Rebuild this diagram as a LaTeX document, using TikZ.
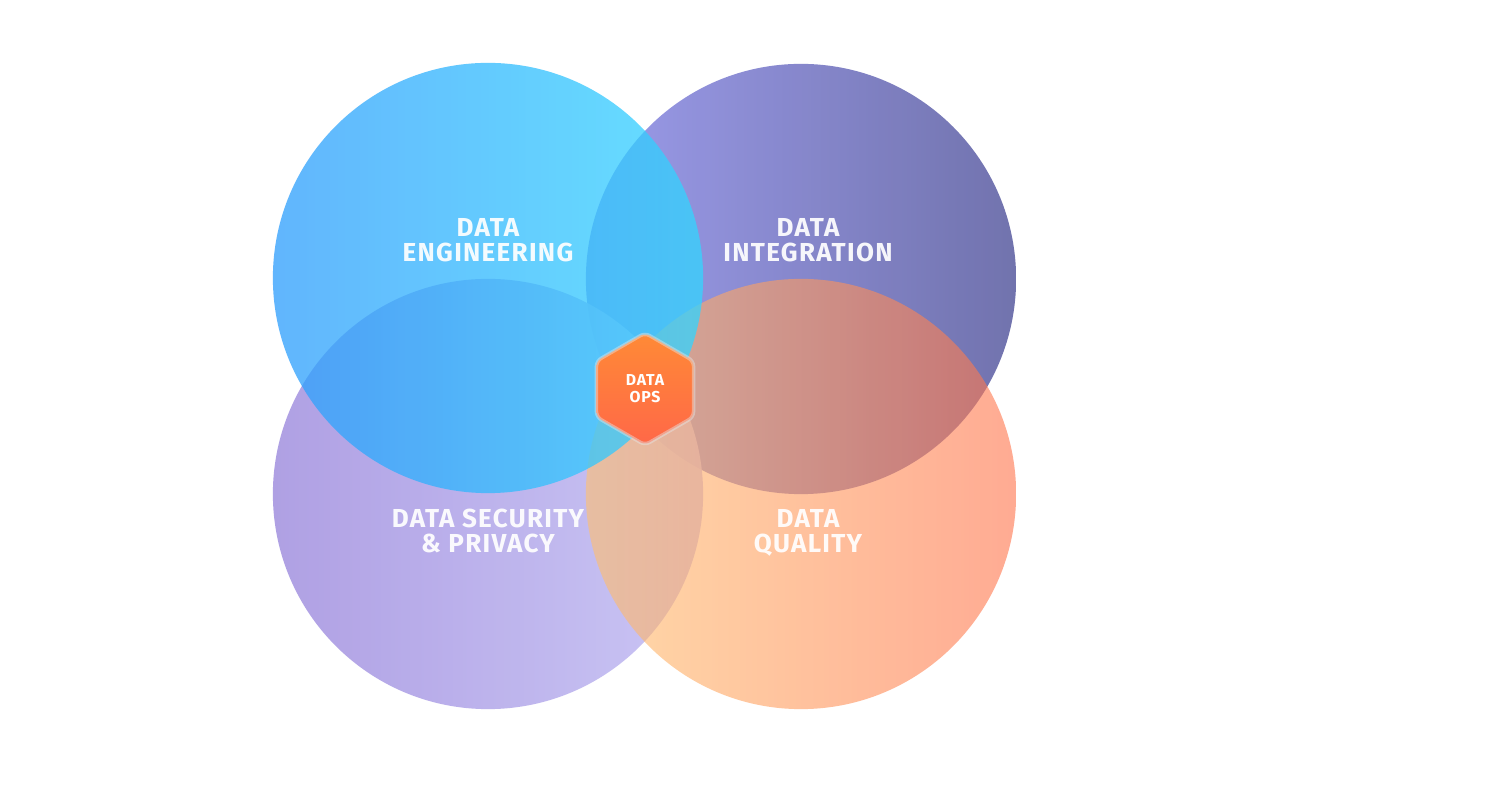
\documentclass[tikz,border=0pt]{standalone}
\usepackage{fontspec}
\setmainfont{Fira Sans}
\newfontfamily\tagfont[LetterSpace=5]{Fira Sans}
\usetikzlibrary{shapes.geometric}
\definecolor{engL}{RGB}{45,157,253}
\definecolor{engR}{RGB}{51,214,255}
\definecolor{integL}{RGB}{145,145,232}
\definecolor{integR}{RGB}{98,100,165}
\definecolor{secuL}{RGB}{167,150,225}
\definecolor{secuR}{RGB}{197,192,244}
\definecolor{qualL}{RGB}{255,192,110}
\definecolor{qualR}{RGB}{255,115,75}
\definecolor{opsT}{RGB}{255,138,54}
\definecolor{opsB}{RGB}{255,104,72}
\begin{document}
\begin{tikzpicture}[x=0.01cm, y=-0.01cm,
  blob/.style={circle, minimum size=4.3cm, inner sep=0pt},
  lbl/.style={text=white, text opacity=0.93, align=center, font=\tagfont\bfseries\fontsize{7.4}{7.1}\selectfont}]
\useasboundingbox (0,0) rectangle (1500,786);
\fill[white] (0,0) rectangle (1500,786);
\node[blob, fill opacity=0.9, left color=integL, right color=integR] (integ) at (801,279) {};
  \node[blob, fill opacity=0.9, left color=secuL, right color=secuR] (secu) at (488,494) {};
  \node[blob, fill opacity=0.6, left color=qualL, right color=qualR] (qual) at (801,494) {};
\node[blob, fill opacity=0.75, left color=engL, right color=engR] (eng) at (488,278) {};
    \node[lbl] (engtxt) at (488,240) {DATA\\ENGINEERING};
    \node[lbl] (integtxt) at (808,240) {DATA\\INTEGRATION};
  \node[lbl] (secutxt) at (488,531) {DATA SECURITY\\\& PRIVACY};
  \node[lbl] (qualtxt) at (808,533) {DATA\\QUALITY};
\node[regular polygon, regular polygon sides=6, shape border rotate=30, minimum size=1.12cm, inner sep=0pt,
   top color=opsT, bottom color=opsB, draw=white!80!gray, draw opacity=0.45, line width=1pt, rounded corners=1.5pt,
   text=white, align=center, font=\tagfont\bfseries\fontsize{4.5}{4.8}\selectfont] (ops) at (645,389) {DATA\\OPS};
\end{tikzpicture}
\end{document}
